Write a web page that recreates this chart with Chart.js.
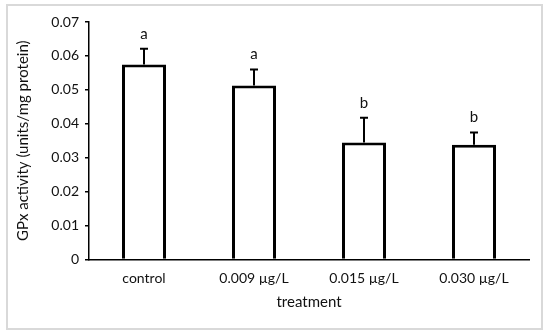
<!DOCTYPE html>
<html>
<head>
<meta charset="utf-8">
<script src="https://cdn.jsdelivr.net/npm/chart.js@4/dist/chart.umd.min.js"></script>
<style>
  html, body { margin: 0; padding: 0; background: #fff; }
  #wrap { width: 550px; height: 334px; }
</style>
</head>
<body>
<div id="wrap"><canvas id="gpxChart"></canvas></div>
<script>
"use strict"

const categories = ['control', '0.009 \u00b5g/L', '0.015 \u00b5g/L', '0.030 \u00b5g/L'];
const means = [0.0575, 0.0513, 0.0345, 0.0338];
const errors = [0.0046, 0.0047, 0.0073, 0.0036];
const letters = ['a', 'a', 'b', 'b'];
const yTicks = [0, 0.01, 0.02, 0.03, 0.04, 0.05, 0.06, 0.07];

const FONT = 'Lato, "Open Sans", sans-serif';

// light grey frame round the whole picture
const framePlugin = {
  id: 'frame',
  beforeDraw(chart) {
    let ctx = chart.ctx;
    ctx.save();
    ctx.fillStyle = '#fff';
    ctx.fillRect(0, 0, chart.width, chart.height);
    ctx.strokeStyle = '#d9d9d9';
    ctx.lineWidth = 2;
    ctx.strokeRect(7, 5, 535, 324);
    ctx.restore();
  }
};

// upper error bars and significance letters
const errorPlugin = {
  id: 'errorBars',
  afterDatasetsDraw(chart) {
    let ctx = chart.ctx;
    let y = chart.scales.y;
    let meta = chart.getDatasetMeta(0);
    ctx.save();
    ctx.strokeStyle = '#000';
    ctx.lineWidth = 2;
    ctx.fillStyle = '#111';
    ctx.font = '15px ' + FONT;
    ctx.textAlign = 'center';
    ctx.textBaseline = 'middle';
    for (let i = 0; i < means.length; i++) {
      let cx = meta.data[i].x;
      let yTop = y.getPixelForValue(means[i]);
      let yErr = y.getPixelForValue(means[i] + errors[i]);
      ctx.beginPath();
      ctx.moveTo(cx, yTop);
      ctx.lineTo(cx, yErr);
      ctx.moveTo(cx - 4, yErr);
      ctx.lineTo(cx + 4, yErr);
      ctx.stroke();
      ctx.fillText(letters[i], cx, yErr - 15);
    }
    ctx.restore();
  }
};

new Chart(document.getElementById('gpxChart'), {
  type: 'bar',
  data: {
    labels: categories,
    datasets: [{
      data: means,
      backgroundColor: '#fff',
      borderColor: '#000',
      borderWidth: 3,
      borderSkipped: 'start',
      categoryPercentage: 1,
      barPercentage: 0.4
    }]
  },
  options: {
    responsive: true,
    maintainAspectRatio: false,
    animation: false,
    events: [],
    layout: { padding: { left: 8, right: 21, top: 22, bottom: 5 } },
    plugins: {
      legend: { display: false },
      tooltip: { enabled: false }
    },
    scales: {
      x: {
        afterFit(axis) { axis.height = 69.5; },
        grid: { display: false, drawTicks: false },
        border: { display: true, color: '#000', width: 1.5 },
        ticks: { color: '#111', font: { family: FONT, size: 14 }, padding: 11, maxRotation: 0 },
        title: { display: true, text: 'treatment', color: '#111', font: { family: FONT, size: 15 }, padding: { top: 4, bottom: 18 } }
      },
      y: {
        min: 0,
        max: 0.07,
        afterFit(axis) { axis.width = 81; },
        afterBuildTicks(axis) { axis.ticks = yTicks.map(v => ({ value: v })); },
        grid: { drawOnChartArea: false, drawTicks: true, tickLength: 4, color: '#000', lineWidth: 1.5 },
        border: { display: true, color: '#000', width: 1.5 },
        ticks: {
          color: '#111',
          font: { family: FONT, size: 14 },
          padding: 6,
          callback: v => v === 0 ? '0' : v.toFixed(2)
        },
        title: { display: true, text: 'GPx activity (units/mg protein)', color: '#111', font: { family: FONT, size: 15 }, padding: { top: 6, bottom: 0 } }
      }
    }
  },
  plugins: [framePlugin, errorPlugin]
});
</script>
</body>
</html>
